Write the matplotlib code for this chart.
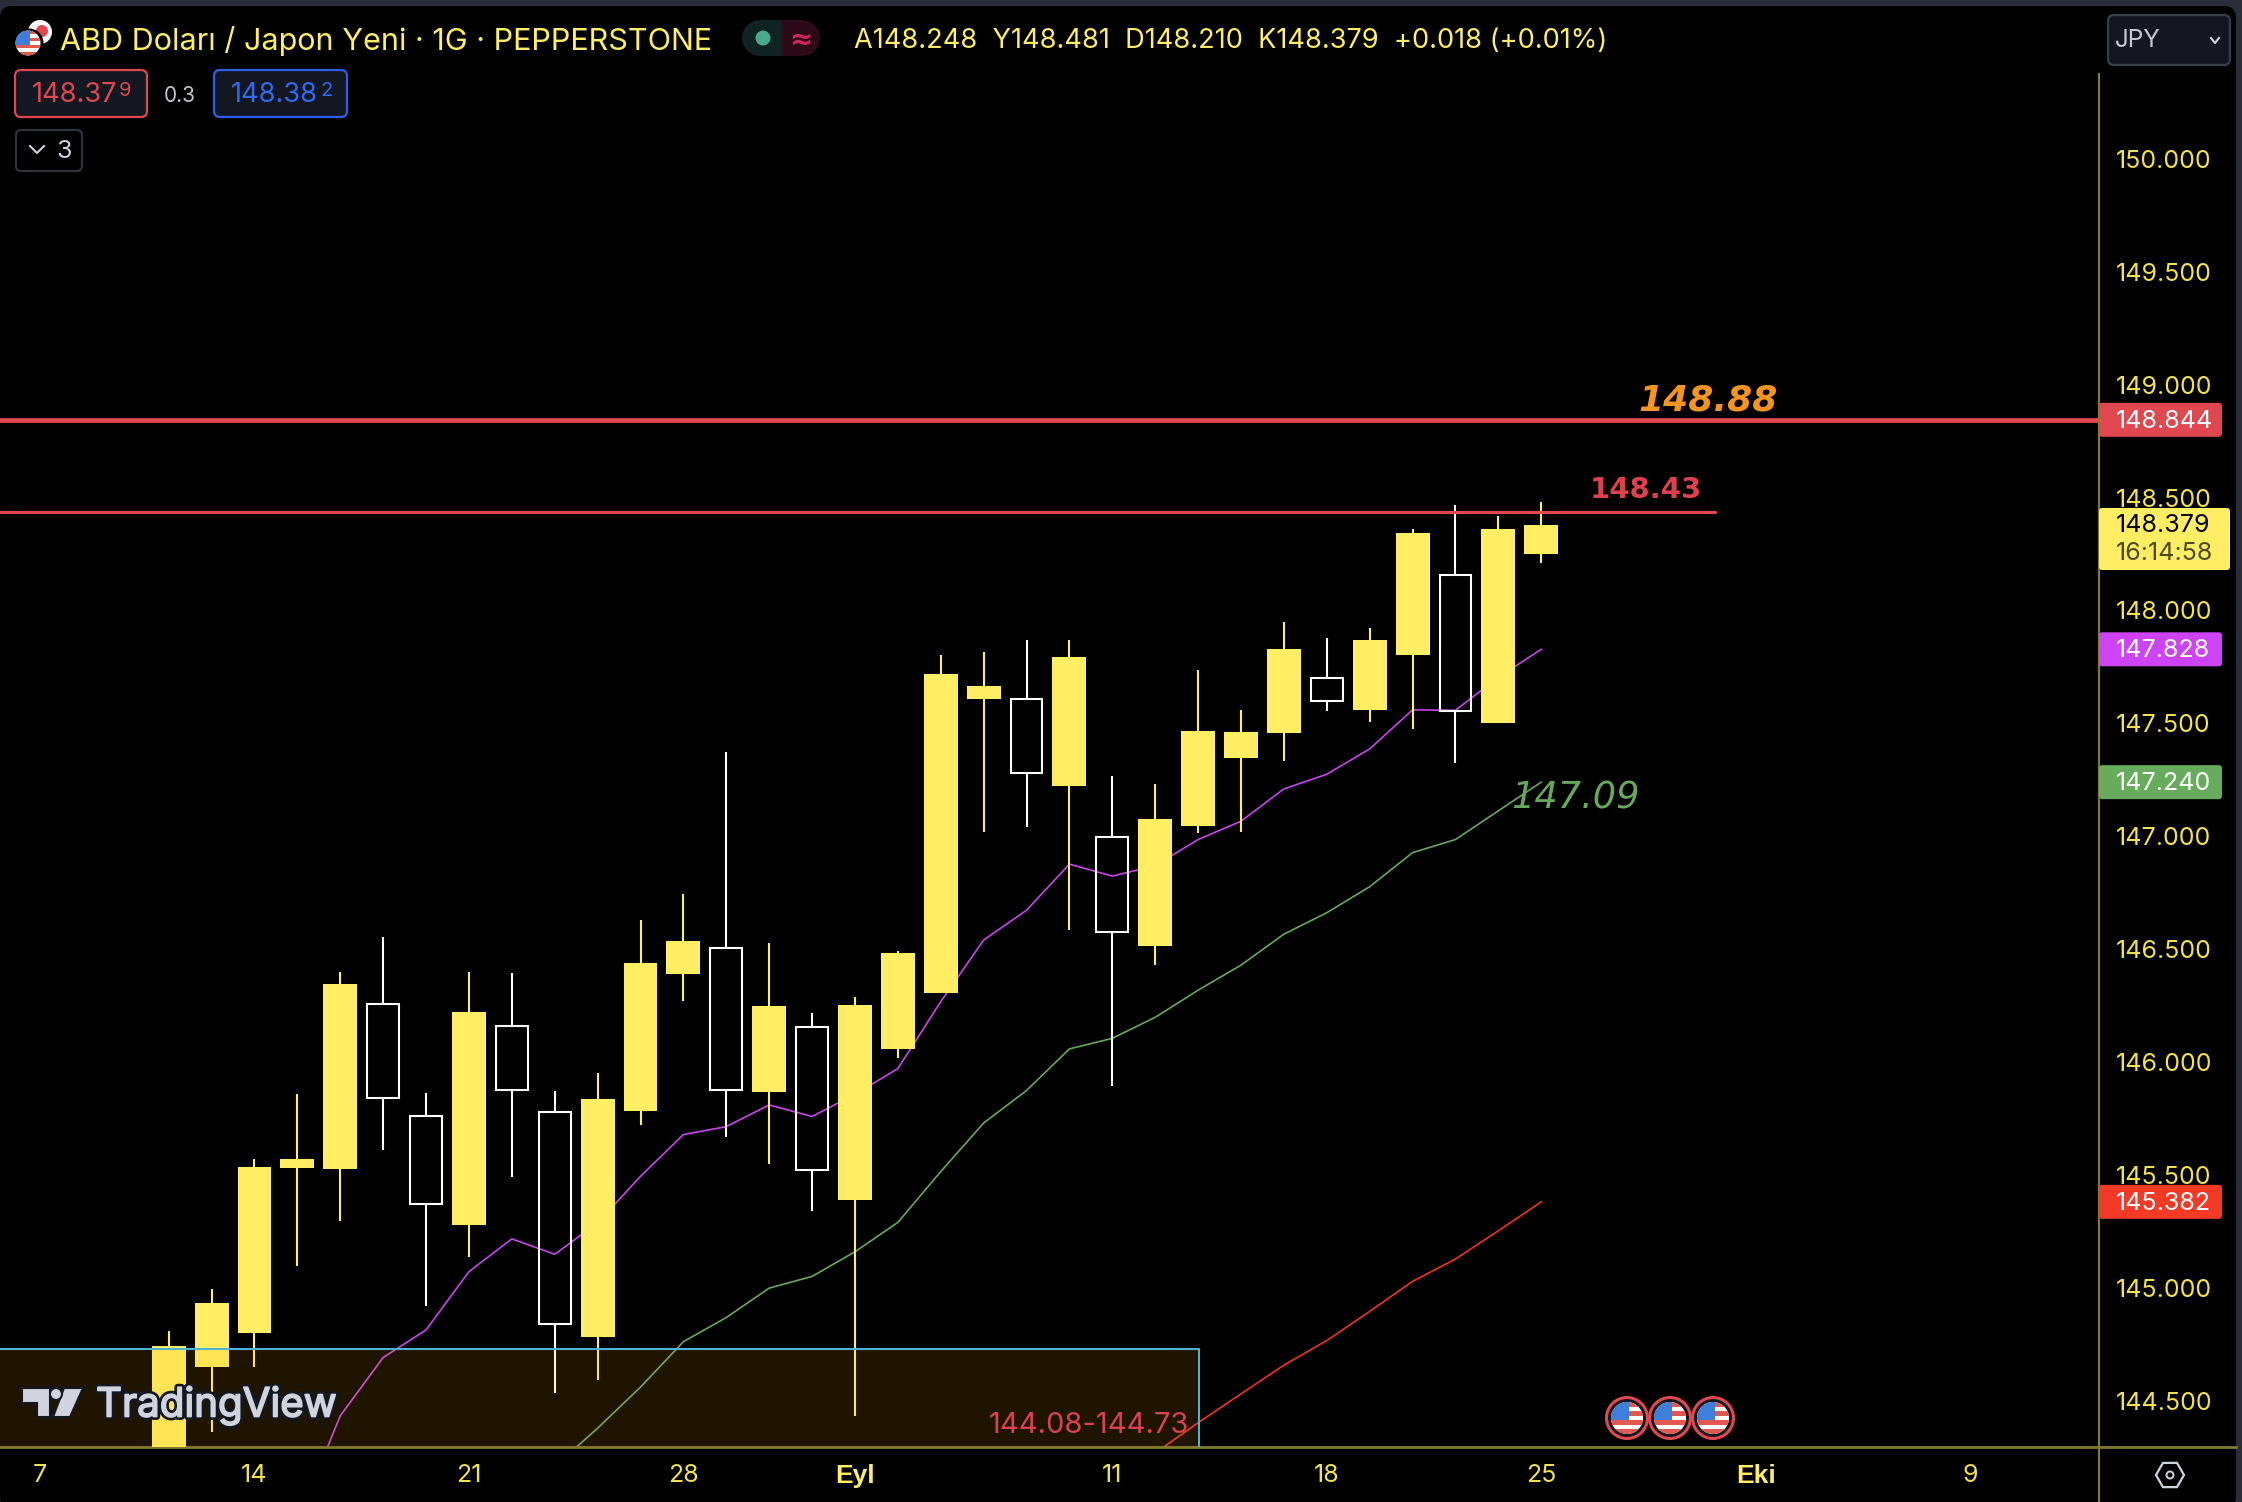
import matplotlib
matplotlib.use('Agg')
import matplotlib.pyplot as plt
import matplotlib.patheffects as pe
from matplotlib.patches import Circle, FancyBboxPatch, Polygon, Rectangle, RegularPolygon

plt.rcParams['font.family'] = ['Inter', 'Liberation Sans', 'DejaVu Sans']

# bar index 0 = 7 Aug, 5 bars per week
bar_x = list(range(3, 36))
opens = [144.20, 144.651, 144.803, 145.533, 145.528, 146.260, 145.763, 145.280, 146.162, 145.781,
         144.782, 145.784, 146.391, 146.505, 145.868, 146.154, 145.392, 146.059, 146.308, 147.609,
         147.606, 147.224, 146.995, 146.516, 147.046, 147.347, 147.458, 147.699, 147.560, 147.803,
         148.158, 147.502, 148.248]
closes = [144.744, 144.935, 145.536, 145.572, 146.347, 145.841, 145.372, 146.222, 145.876, 144.841,
          145.838, 146.440, 146.537, 145.877, 146.249, 145.522, 146.254, 146.484, 147.720, 147.666,
          147.282, 147.794, 146.578, 147.076, 147.467, 147.463, 147.831, 147.597, 147.870, 148.345,
          147.553, 148.361, 148.379]
highs = [144.810, 144.995, 145.571, 145.858, 146.399, 146.554, 145.863, 146.399, 146.396, 145.871,
         145.952, 146.630, 146.744, 147.373, 146.530, 146.220, 146.288, 146.493, 147.801, 147.815,
         147.870, 147.870, 147.268, 147.231, 147.738, 147.560, 147.947, 147.880, 147.923, 148.361,
         148.468, 148.418, 148.481]
lows = [144.10, 144.361, 144.649, 145.099, 145.297, 145.612, 144.922, 145.139, 145.490, 144.534,
        144.595, 145.722, 146.273, 145.667, 145.550, 145.343, 144.435, 146.018, 146.308, 147.018,
        147.041, 146.585, 145.897, 146.430, 147.014, 147.018, 147.333, 147.556, 147.507, 147.477,
        147.324, 147.502, 148.210]

ma_fast_x = list(range(6, 36))
ma_fast = [143.97, 144.435, 144.693, 144.815, 145.073, 145.218, 145.150, 145.289, 145.495, 145.680,
           145.715, 145.811, 145.760, 145.858, 145.972, 146.268, 146.541, 146.673, 146.877, 146.824,
           146.870, 146.986, 147.067, 147.210, 147.275, 147.387, 147.560, 147.558, 147.704, 147.828]
ma_mid_x = list(range(12, 36))
ma_mid = [144.211, 144.380, 144.562, 144.763, 144.870, 145.000, 145.052, 145.161, 145.291, 145.516,
          145.731, 145.875, 146.059, 146.106, 146.199, 146.319, 146.430, 146.567, 146.662, 146.777,
          146.928, 146.986, 147.113, 147.240]
ma_slow_x = list(range(26, 36))
ma_slow = [144.27, 144.404, 144.532, 144.659, 144.768, 144.897, 145.030, 145.129, 145.254, 145.382]

y_ticks = [144.5, 145.0, 145.5, 146.0, 146.5, 147.0, 147.5, 148.0, 148.5, 149.0, 149.5, 150.0]
x_ticks = [0, 5, 10, 15, 19, 25, 30, 35, 40, 45]
x_labels = ['7', '14', '21', '28', 'Eyl', '11', '18', '25', 'Eki', '9']
month_labels = ['Eyl', 'Eki']

resistance_top = 148.844
resistance_low = 148.438
zone_low = 144.08
zone_high = 144.73

YELLOW = '#ffee63'
TICK = '#f3e24a'
OLIVE = '#7f7a2e'
RED = '#e0474f'

fig = plt.figure(figsize=(22.42, 15.02), dpi=100, facecolor='#2a2d38')
W, H = 2242, 1502


def px_axes(z):
    a = fig.add_axes([0, 0, 1, 1], zorder=z)
    a.set_xlim(0, W)
    a.set_ylim(H, 0)
    a.axis('off')
    a.patch.set_alpha(0)
    return a


# dark panel behind the chart
bg = px_axes(0)
bg.add_patch(FancyBboxPatch((0, 6), 2236, H, boxstyle='round,pad=0,rounding_size=12', fc='black', ec='none'))

ax = fig.add_axes([0, (H - 1446.5) / H, 2098 / W, (1446.5 - 8) / H], zorder=1)
ax.set_facecolor('none')
ax.set_xlim(-0.933, 47.98)
ax.set_ylim(144.299, 150.667)
for s in ['top', 'left', 'right']:
    ax.spines[s].set_visible(False)
ax.spines['bottom'].set_color(OLIVE)
ax.spines['bottom'].set_linewidth(2)

ax.plot(ma_fast_x, ma_fast, color='#c944ee', lw=1.2, zorder=2)
ax.plot(ma_mid_x, ma_mid, color='#66a95a', lw=1.2, zorder=2)
ax.plot(ma_slow_x, ma_slow, color='#f0341f', lw=1.2, zorder=2)

for x, o, c, h, l in zip(bar_x, opens, closes, highs, lows):
    top, bot = max(o, c), min(o, c)
    if c >= o:
        ax.vlines([x, x], [top, l], [h, bot], color=YELLOW, lw=1.5, zorder=3)
        ax.bar(x, top - bot, bottom=bot, width=0.79, color=YELLOW, zorder=3)
    else:
        ax.vlines([x, x], [top, l], [h, bot], color='white', lw=1.5, zorder=3)
        ax.bar(x, top - bot, bottom=bot, width=0.74, facecolor='none', edgecolor='white', lw=1.5, zorder=3)

ax.axhline(resistance_top, color=RED, lw=3.4, zorder=4)
ax.plot([-0.933, 39.05], [resistance_low, resistance_low], color=RED, lw=2.3, zorder=4, solid_capstyle='round')
ax.text(38.9, 148.93, '148.88', color='#f7941d', fontsize=26, fontweight='bold', fontstyle='italic',
        family=['DejaVu Sans'], ha='center', va='center', zorder=5)
ax.text(37.45, 148.532, '148.43', color='#e0404c', fontsize=21, fontweight='bold',
        family=['DejaVu Sans'], ha='center', va='center', zorder=5)
ax.text(34.3, 147.171, '147.09', color='#66a95a', fontsize=26.5, fontstyle='italic',
        family=['DejaVu Sans'], ha='left', va='center', zorder=5)

# zone sits over the candles
ax.add_patch(Rectangle((-0.933, zone_low), 27.95, zone_high - zone_low, fc='#ffa500', alpha=0.12, ec='none', zorder=6))
ax.plot([-0.933, 27.02, 27.02], [zone_high, zone_high, zone_low], color='#4fb3cf', lw=1.5, zorder=6)
ax.text(26.8, 144.39, '144.08-144.73', color='#d9434f', fontsize=21, ha='right', va='center', zorder=7)

ax.yaxis.tick_right()
ax.set_yticks(y_ticks)
ax.set_yticklabels(['%.3f' % v for v in y_ticks], color=TICK, fontsize=18)
ax.tick_params(axis='y', length=0, pad=13)
ax.set_xticks(x_ticks)
ax.set_xticklabels(x_labels, color=TICK, fontsize=18)
ax.tick_params(axis='x', length=0, pad=12.5)
for t in ax.get_xticklabels():
    if t.get_text() in month_labels:
        t.set_fontweight('bold')
        t.set_family(['Liberation Sans', 'DejaVu Sans'])
        t.set_fontsize(19)
        t.set_color(YELLOW)

ov = px_axes(2)


def py(price):
    return ax.transData.transform((0, price))[1] * -1 + H


def box(x0, y0, x1, y1, fc, ec='none', lw=0, r=4):
    ov.add_patch(FancyBboxPatch((x0 + r, y0 + r), x1 - x0 - 2 * r, y1 - y0 - 2 * r,
                                boxstyle='round,pad=%d,rounding_size=%d' % (r, r),
                                fc=fc, ec=ec, lw=lw))


def label(x, y, s, color, size, ha='left', **kw):
    ov.text(x, y + 1.5, s, color=color, fontsize=size, ha=ha, va='center', **kw)


def flag(cx, cy, r):
    clip = Circle((cx, cy), r, fc='white', ec='none')
    ov.add_patch(clip)
    n = 7
    for k in range(0, n, 2):
        s = Rectangle((cx - r, cy - r + k * 2 * r / n), 2 * r, 2 * r / n, fc='#e0584f', ec='none')
        ov.add_patch(s)
        s.set_clip_path(clip)
    b = Rectangle((cx - r, cy - r), r * 1.15, r * 1.15, fc='#3f7fdc', ec='none')
    ov.add_patch(b)
    b.set_clip_path(clip)


# price labels on the axis
for price, txt, col, right in [(resistance_top, '148.844', RED, 2222),
                               (ma_fast[-1], '147.828', '#cc44f5', 2222),
                               (ma_mid[-1], '147.240', '#66ac5c', 2222),
                               (ma_slow[-1], '145.382', '#f23a26', 2222)]:
    yy = py(price)
    box(2099, yy - 17, right, yy + 17, col, r=3)
    label(2116, yy, txt, 'white', 18)
box(2099, 508, 2230, 570, YELLOW, r=3)
label(2116, 524, '%.3f' % closes[-1], 'black', 18)
label(2116, 552, '16:14:58', '#4d4a1c', 18)

# axis frame lines
ov.plot([2099, 2099], [74, H], color=OLIVE, lw=1.6, zorder=0)
ov.plot([2099, 2236], [1446.5, 1446.5], color=OLIVE, lw=2)

# header
ov.add_patch(Circle((40, 32), 12, fc='white', ec='none'))
ov.add_patch(Circle((42, 31), 6, fc='#e0474f', ec='none'))
ov.add_patch(Circle((29, 43), 14.5, fc='black', ec='none'))
flag(28, 43, 12.5)
label(60, 39.5, 'ABD Doları / Japon Yeni · 1G · PEPPERSTONE', YELLOW, 22)
ov.add_patch(FancyBboxPatch((760, 20), 42, 36, boxstyle='round,pad=0,rounding_size=2', fc='#0f2420', ec='none'))
ov.add_patch(Circle((760, 38), 18, fc='#0f2420', ec='none'))
ov.add_patch(Circle((802, 38), 18, fc='#2c0a18', ec='none'))
ov.add_patch(Rectangle((782, 20), 20, 36, fc='#2c0a18', ec='none'))
ov.add_patch(Circle((763, 38), 7.5, fc='#4aa88c', ec='none'))
label(802, 38, '≈', '#d0255f', 20, ha='center', fontweight='bold', family=['DejaVu Sans'])
label(854, 39.5, 'A148.248  Y148.481  D148.210  K148.379  +0.018 (+0.01%)', YELLOW, 19.6)

box(15, 70, 147, 117, '#131722', RED, 1.6, r=6)
label(32, 94, '148.37', RED, 19.6)
label(119, 90, '9', RED, 14.5)
label(180, 94, '0.3', '#c4c6cc', 15, ha='center')
box(214, 70, 347, 117, '#131722', '#2f5fe8', 1.6, r=6)
label(231, 94, '148.38', '#2f6af0', 19.6)
label(320, 90, '2', '#2f6af0', 14.5)
box(16, 130, 82, 171, 'black', '#2f323c', 1.6, r=5)
ov.plot([30, 37, 44], [146, 153, 146], color='#d1d4dc', lw=1.5)
label(64, 150, '3', '#d1d4dc', 18, ha='center')

box(2108, 15, 2230, 65, '#131722', '#3a3e49', 1.6, r=6)
label(2115, 39, 'JPY', '#c4c8d0', 17.5)
ov.plot([2211, 2215, 2219], [38, 43, 38], color='#d1d4dc', lw=1.5)

# bottom right settings icon
ov.add_patch(RegularPolygon((2170, 1475), 6, radius=14, orientation=3.14159 / 6, fc='none', ec='#d1d4dc', lw=1.6))
ov.add_patch(Circle((2170, 1475), 3.5, fc='none', ec='#d1d4dc', lw=1.4))

# economic event flags
for cx in [1627, 1670, 1713]:
    ov.add_patch(Circle((cx, 1418), 20.5, fc='#131722', ec=RED, lw=2.2))
    flag(cx, 1418, 16)

# watermark
halo = [pe.withStroke(linewidth=5, foreground='#131722'), pe.withStroke(linewidth=1.2, foreground='#d1d4dc')]
logo = [Polygon([(22, 1388), (50, 1388), (50, 1417), (37, 1417), (37, 1403), (22, 1403)], closed=True),
        Polygon([(64, 1388), (83, 1388), (70, 1417), (53, 1417)], closed=True),
        Circle((56, 1394), 6)]
for p in logo:
    p.set(fc='#d1d4dc', ec='#131722', lw=1.5)
    ov.add_patch(p)
label(96, 1404, 'TradingView', '#d1d4dc', 29, path_effects=halo)

fig.savefig('out.png', dpi=100, facecolor=fig.get_facecolor())
